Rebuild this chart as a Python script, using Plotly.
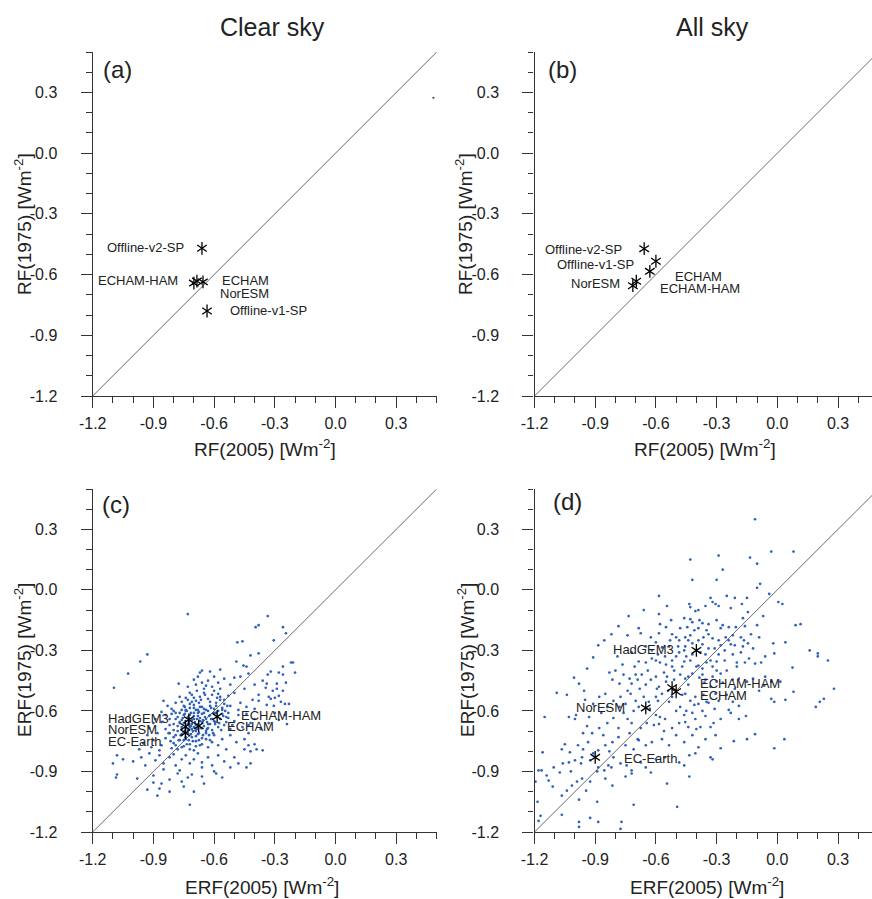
import plotly.graph_objects as go

# ---------------- data ----------------
tick_vals = [-1.2, -0.9, -0.6, -0.3, 0.0, 0.3]
tick_text = ["-1.2", "-0.9", "-0.6", "-0.3", "0.0", "0.3"]
diag = [-1.2, 0.5]

# panel (a) clear-sky RF
a_names = ["Offline-v2-SP", "ECHAM-HAM", "NorESM", "ECHAM", "Offline-v1-SP"]
a_x = [-0.66, -0.70, -0.685, -0.655, -0.635]
a_y = [-0.47, -0.642, -0.632, -0.636, -0.78]
a_stray_x = [0.484]
a_stray_y = [0.274]

# panel (b) all-sky RF
b_names = ["Offline-v2-SP", "Offline-v1-SP", "ECHAM", "ECHAM-HAM", "NorESM"]
b_x = [-0.658, -0.60, -0.63, -0.697, -0.714]
b_y = [-0.472, -0.534, -0.584, -0.633, -0.655]

# panel (c) clear-sky ERF
c_names = ["ECHAM-HAM", "ECHAM", "HadGEM3", "NorESM", "EC-Earth"]
c_x = [-0.585, -0.676, -0.725, -0.742, -0.742]
c_y = [-0.628, -0.674, -0.644, -0.678, -0.709]

# panel (d) all-sky ERF
d_names = ["HadGEM3", "ECHAM-HAM", "ECHAM", "NorESM", "EC-Earth"]
d_x = [-0.40, -0.52, -0.50, -0.65, -0.90]
d_y = [-0.30, -0.485, -0.505, -0.585, -0.83]

# ensemble members (ERF2005, ERF1975), clear sky
c_pts = [
    (-0.73,-0.12),(-0.335,-0.13),(-0.395,-0.185),(-0.38,-0.175),(-0.26,-0.185),(-0.245,-0.215),
    (-0.305,-0.25),(-0.485,-0.26),(-0.46,-0.255),(-0.93,-0.32),(-0.42,-0.325),(-0.38,-0.315),
    (-0.965,-0.355),(-0.49,-0.355),(-0.455,-0.375),(-0.44,-0.38),(-0.22,-0.36),(-0.21,-0.36),
    (-0.26,-0.38),(-0.20,-0.41),(-1.025,-0.415),(-1.095,-0.485),
    (-0.335,-0.42),(-0.32,-0.405),(-0.28,-0.41),(-0.43,-0.415),(-0.50,-0.435),(-0.47,-0.43),
    (-0.57,-0.395),(-0.66,-0.40),(-0.67,-0.41),(-0.62,-0.405),(-0.68,-0.43),(-0.70,-0.445),
    (-0.775,-0.465),(-0.26,-0.42),(-0.245,-0.46),(-0.34,-0.465),(-0.29,-0.465),(-0.345,-0.485),
    (-0.52,-0.47),(-0.58,-0.46),(-0.61,-0.48),(-0.63,-0.45),(-0.73,-0.48),(-0.55,-0.44),
    (-0.40,-0.47),(-0.45,-0.49),(-0.65,-0.49),(-0.60,-0.43),
    (-0.26,-0.50),(-0.28,-0.525),(-0.30,-0.535),(-0.32,-0.54),(-0.27,-0.555),(-0.25,-0.565),
    (-0.23,-0.565),(-0.305,-0.575),(-0.38,-0.52),(-0.41,-0.545),(-0.44,-0.58),(-0.47,-0.56),
    (-0.50,-0.51),(-0.53,-0.525),(-0.55,-0.545),(-0.57,-0.53),(-0.59,-0.56),(-0.61,-0.52),
    (-0.63,-0.54),(-0.65,-0.51),(-0.67,-0.53),(-0.69,-0.55),(-0.71,-0.52),(-0.73,-0.545),
    (-0.75,-0.575),(-0.77,-0.53),(-0.79,-0.56),(-0.81,-0.59),(-0.83,-0.575),(-0.85,-0.55),
    (-0.62,-0.575),(-0.66,-0.58),(-0.70,-0.585),(-0.68,-0.595),(-0.64,-0.595),(-0.60,-0.59),
    (-0.56,-0.585),(-0.52,-0.575),(-0.48,-0.595),(-0.72,-0.565),(-0.58,-0.515),(-0.74,-0.595),
    (-0.34,-0.57),(-0.33,-0.53),(-0.31,-0.50),(-0.29,-0.49),(-0.36,-0.45),(-0.38,-0.55),
    (-0.40,-0.59),
    (-0.86,-0.655),(-0.89,-0.64),(-0.90,-0.66),(-0.84,-0.62),(-0.82,-0.64),(-0.80,-0.665),
    (-0.79,-0.61),(-0.78,-0.63),(-0.77,-0.655),(-0.76,-0.68),(-0.75,-0.62),(-0.74,-0.60),
    (-0.73,-0.665),(-0.72,-0.62),(-0.71,-0.69),(-0.70,-0.64),(-0.70,-0.61),(-0.69,-0.67),
    (-0.68,-0.625),(-0.67,-0.65),(-0.66,-0.685),(-0.65,-0.61),(-0.64,-0.64),(-0.63,-0.665),
    (-0.62,-0.62),(-0.61,-0.695),(-0.60,-0.65),(-0.59,-0.61),(-0.58,-0.68),(-0.57,-0.64),
    (-0.56,-0.615),(-0.55,-0.67),(-0.54,-0.63),(-0.52,-0.69),(-0.50,-0.65),(-0.48,-0.62),
    (-0.46,-0.68),(-0.44,-0.615),(-0.42,-0.66),(-0.43,-0.67),(-0.40,-0.64),(-0.37,-0.69),
    (-0.33,-0.66),(-0.30,-0.61),(-0.28,-0.645),(-0.25,-0.62),(-0.24,-0.665),(-0.80,-0.695),
    (-0.84,-0.69),(-0.76,-0.645),(-0.745,-0.70),(-0.725,-0.635),(-0.715,-0.675),(-0.69,-0.70),
    (-0.675,-0.605),(-0.655,-0.645),(-0.635,-0.69),(-0.615,-0.64),(-0.595,-0.665),(-0.565,-0.695),
    (-0.53,-0.61),(-0.51,-0.67),(-0.92,-0.685),(-0.86,-0.605),(-0.81,-0.615),
    (-0.93,-0.72),(-0.90,-0.745),(-0.88,-0.71),(-0.86,-0.77),(-0.84,-0.735),(-0.82,-0.71),
    (-0.80,-0.76),(-0.79,-0.72),(-0.78,-0.79),(-0.77,-0.745),(-0.76,-0.715),(-0.75,-0.775),
    (-0.74,-0.74),(-0.73,-0.71),(-0.72,-0.765),(-0.71,-0.73),(-0.70,-0.795),(-0.69,-0.75),
    (-0.68,-0.715),(-0.67,-0.77),(-0.66,-0.735),(-0.64,-0.71),(-0.63,-0.78),(-0.62,-0.745),
    (-0.60,-0.72),(-0.58,-0.77),(-0.56,-0.74),(-0.54,-0.79),(-0.52,-0.72),(-0.49,-0.755),
    (-0.45,-0.79),(-0.43,-0.71),(-0.40,-0.765),(-0.39,-0.79),(-0.36,-0.795),(-0.42,-0.80),
    (-0.95,-0.76),(-0.97,-0.79),(-0.91,-0.78),(-0.87,-0.795),(-0.81,-0.785),(-0.45,-0.74),
    (-0.43,-0.77),
    (-1.05,-0.84),(-1.08,-0.82),(-1.10,-0.86),(-1.0,-0.85),(-0.96,-0.83),(-0.94,-0.87),
    (-0.92,-0.81),(-0.89,-0.845),(-0.87,-0.82),(-0.85,-0.86),(-0.82,-0.83),(-0.80,-0.815),
    (-0.79,-0.87),(-0.76,-0.84),(-0.74,-0.82),(-0.72,-0.86),(-0.70,-0.84),(-0.68,-0.81),
    (-0.66,-0.855),(-0.63,-0.83),(-0.61,-0.87),(-0.58,-0.82),(-0.55,-0.85),(-0.52,-0.88),
    (-0.50,-0.83),(-0.48,-0.86),(-0.85,-0.89),(-0.77,-0.895),(-0.66,-0.88),(-0.42,-0.86),
    (-0.44,-0.88),(-1.085,-0.93),
    (-1.08,-0.915),(-0.98,-0.935),(-0.90,-0.92),(-0.86,-0.96),(-0.82,-0.94),(-0.78,-0.91),
    (-0.75,-0.975),(-0.73,-0.93),(-0.71,-0.915),(-0.66,-0.925),(-0.60,-0.90),(-0.59,-0.91),
    (-0.56,-0.93),(-0.93,-0.99),(-0.87,-0.985),(-0.82,-1.00),(-0.76,-0.95),(-0.72,-1.065),
    (-0.70,-1.0),(-0.88,-1.02),(-0.90,-0.955),(-0.65,-0.96),
]

# dense core of the clear-sky ERF cloud
c_core = [
    (-0.80,-0.60),(-0.79,-0.64),(-0.78,-0.675),(-0.78,-0.70),(-0.77,-0.61),(-0.77,-0.66),
    (-0.765,-0.72),(-0.76,-0.595),(-0.76,-0.69),(-0.755,-0.635),(-0.75,-0.66),(-0.75,-0.705),
    (-0.745,-0.58),(-0.745,-0.615),(-0.74,-0.65),(-0.74,-0.685),(-0.74,-0.73),(-0.735,-0.60),
    (-0.735,-0.67),(-0.73,-0.63),(-0.73,-0.695),(-0.725,-0.655),(-0.725,-0.745),(-0.72,-0.585),
    (-0.72,-0.68),(-0.715,-0.61),(-0.715,-0.715),(-0.71,-0.645),(-0.71,-0.665),(-0.705,-0.70),
    (-0.70,-0.57),(-0.70,-0.625),(-0.70,-0.68),(-0.695,-0.655),(-0.69,-0.595),(-0.69,-0.725),
    (-0.685,-0.64),(-0.685,-0.69),(-0.68,-0.61),(-0.68,-0.665),(-0.675,-0.71),(-0.67,-0.58),
    (-0.67,-0.635),(-0.665,-0.685),(-0.66,-0.615),(-0.66,-0.655),(-0.655,-0.72),(-0.65,-0.59),
    (-0.65,-0.675),(-0.645,-0.63),(-0.64,-0.70),(-0.635,-0.655),(-0.63,-0.60),(-0.63,-0.685),
    (-0.625,-0.625),(-0.62,-0.665),(-0.615,-0.585),(-0.61,-0.64),(-0.605,-0.71),(-0.60,-0.61),
    (-0.595,-0.655),(-0.59,-0.575),(-0.585,-0.63),(-0.58,-0.60),(-0.575,-0.66),(-0.57,-0.545),
    (-0.56,-0.595),(-0.555,-0.625),(-0.55,-0.565),(-0.545,-0.60),(-0.54,-0.655),(-0.535,-0.575),
    (-0.53,-0.635),
    (-0.82,-0.67),(-0.825,-0.71),(-0.815,-0.75),(-0.80,-0.73),(-0.79,-0.77),(-0.775,-0.745),
    (-0.76,-0.78),(-0.75,-0.745),(-0.735,-0.765),(-0.72,-0.79),(-0.705,-0.75),(-0.69,-0.775),
    (-0.675,-0.745),(-0.66,-0.765),(-0.64,-0.74),(-0.625,-0.72),(-0.61,-0.755),
    (-0.76,-0.555),(-0.74,-0.535),(-0.72,-0.51),(-0.70,-0.535),(-0.685,-0.50),(-0.665,-0.545),
    (-0.645,-0.52),(-0.62,-0.555),(-0.60,-0.50),(-0.585,-0.535),(-0.57,-0.49),(-0.69,-0.47),
    (-0.66,-0.46),(-0.64,-0.475),(-0.71,-0.555),(-0.675,-0.56),
]

# ensemble members (ERF2005, ERF1975), all sky
d_pts = [
    (-0.11,0.35),(-0.03,0.19),(0.08,0.19),(-0.135,0.16),(-0.29,0.17),(-0.43,0.15),(-0.10,0.13),
    (-0.27,0.10),(-0.42,0.05),(-0.30,0.05),(-0.085,0.03),(-0.10,0.01),
    (-0.04,-0.02),(-0.585,-0.03),(-0.33,-0.04),(-0.25,-0.03),(-0.21,-0.04),(-0.15,-0.04),
    (-0.32,-0.06),(-0.305,-0.07),(-0.29,-0.08),(0.005,-0.06),(0.025,-0.07),(-0.545,-0.08),
    (-0.435,-0.07),(-0.43,-0.085),(-0.355,-0.08),(-0.175,-0.07),(-0.23,-0.09),(-0.66,-0.10),
    (-0.405,-0.105),(-0.39,-0.10),(-0.145,-0.11),
    (-0.735,-0.13),(-0.585,-0.12),(-0.525,-0.15),(-0.46,-0.14),(-0.43,-0.145),(-0.42,-0.16),
    (-0.385,-0.15),(-0.37,-0.165),(-0.34,-0.17),(-0.30,-0.15),(-0.27,-0.175),(-0.24,-0.185),
    (-0.205,-0.185),(-0.16,-0.18),(-0.10,-0.175),(0.09,-0.175),(0.115,-0.17),(-0.785,-0.18),
    (-0.685,-0.19),(-0.48,-0.19),(-0.445,-0.185),(-0.39,-0.19),(-0.35,-0.20),(-0.58,-0.17),
    (-0.55,-0.185),
    (-0.82,-0.22),(-0.885,-0.275),(-0.855,-0.25),(-0.74,-0.225),(-0.675,-0.215),(-0.625,-0.235),
    (-0.585,-0.215),(-0.52,-0.22),(-0.50,-0.235),(-0.485,-0.25),(-0.455,-0.235),(-0.43,-0.225),
    (-0.39,-0.25),(-0.365,-0.235),(-0.32,-0.24),(-0.29,-0.25),(-0.255,-0.235),(-0.22,-0.225),
    (-0.18,-0.235),(-0.165,-0.25),(-0.145,-0.265),(-0.17,-0.28),(-0.21,-0.275),(-0.24,-0.25),
    (0.04,-0.26),(-0.02,-0.265),(-0.09,-0.235),(-0.535,-0.28),(-0.60,-0.26),(-0.65,-0.28),
    (-0.455,-0.28),(-0.42,-0.265),(-0.34,-0.29),(-0.28,-0.275),
    (-0.79,-0.33),(-0.91,-0.335),(-0.94,-0.39),(-0.83,-0.41),(-0.72,-0.31),(-0.685,-0.355),
    (-0.65,-0.36),(-0.62,-0.34),(-0.59,-0.32),(-0.58,-0.36),(-0.555,-0.33),(-0.52,-0.35),
    (-0.485,-0.31),(-0.46,-0.355),(-0.45,-0.33),(-0.42,-0.32),(-0.355,-0.32),(-0.33,-0.35),
    (-0.30,-0.355),(-0.29,-0.32),(-0.26,-0.35),(-0.22,-0.32),(-0.20,-0.36),(-0.16,-0.36),
    (-0.14,-0.34),(-0.11,-0.365),(-0.08,-0.36),(-0.06,-0.33),(-0.015,-0.315),(0.075,-0.385),
    (0.16,-0.30),(0.20,-0.315),(0.20,-0.33),(0.25,-0.35),(-0.765,-0.37),(-0.705,-0.38),
    (-0.52,-0.38),(-0.39,-0.375),(-0.37,-0.39),(-0.32,-0.38),
    (-1.09,-0.51),(-1.04,-0.52),(-1.005,-0.435),(-0.98,-0.465),(-0.955,-0.50),(-0.815,-0.445),
    (-0.78,-0.465),(-0.76,-0.42),(-0.73,-0.44),(-0.72,-0.465),(-0.69,-0.445),(-0.67,-0.42),
    (-0.65,-0.47),(-0.625,-0.445),(-0.60,-0.43),(-0.585,-0.48),(-0.55,-0.455),(-0.545,-0.43),
    (-0.51,-0.445),(-0.48,-0.42),(-0.455,-0.44),(-0.44,-0.47),(-0.42,-0.415),(-0.385,-0.435),
    (-0.37,-0.42),(-0.355,-0.445),(-0.32,-0.43),(-0.30,-0.455),(-0.28,-0.415),(-0.22,-0.445),
    (-0.19,-0.44),(-0.15,-0.455),(-0.065,-0.475),(-0.03,-0.455),(0.015,-0.455),(-0.06,-0.43),
    (0.28,-0.49),(-0.595,-0.49),
    (-1.15,-0.63),(-1.03,-0.63),(-0.995,-0.62),(-0.95,-0.545),(-0.91,-0.565),(-0.88,-0.53),
    (-0.85,-0.515),(-0.81,-0.55),(-0.775,-0.53),(-0.75,-0.565),(-0.725,-0.515),(-0.70,-0.55),
    (-0.685,-0.58),(-0.635,-0.555),(-0.60,-0.53),(-0.57,-0.515),(-0.535,-0.555),(-0.52,-0.53),
    (-0.455,-0.515),(-0.43,-0.55),(-0.405,-0.53),(-0.39,-0.565),(-0.365,-0.52),(-0.35,-0.555),
    (-0.305,-0.515),(-0.29,-0.55),(-0.25,-0.52),(-0.22,-0.555),(-0.24,-0.595),(-0.19,-0.575),
    (-0.03,-0.54),(-0.015,-0.555),(0.04,-0.545),(0.08,-0.505),(0.19,-0.58),(0.21,-0.555),
    (0.23,-0.54),(-0.48,-0.58),(-0.50,-0.60),
    (-1.0,-0.64),(-0.94,-0.675),(-0.915,-0.71),(-0.88,-0.685),(-0.84,-0.66),(-0.81,-0.635),
    (-0.785,-0.685),(-0.74,-0.64),(-0.72,-0.66),(-0.675,-0.685),(-0.645,-0.66),(-0.60,-0.62),
    (-0.585,-0.665),(-0.555,-0.64),(-0.52,-0.685),(-0.485,-0.66),(-0.46,-0.62),(-0.455,-0.655),
    (-0.42,-0.61),(-0.405,-0.64),(-0.38,-0.68),(-0.355,-0.625),(-0.315,-0.66),(-0.28,-0.64),
    (-0.23,-0.61),(-0.19,-0.64),(-0.155,-0.625),(-0.15,-0.74),(-0.11,-0.715),(-0.215,-0.75),
    (-0.28,-0.785),(-0.015,-0.785),(0.035,-0.74),
    (-1.065,-0.79),(-1.05,-0.765),(-1.025,-0.805),(-0.985,-0.77),(-0.96,-0.79),(-0.935,-0.755),
    (-0.885,-0.795),(-0.85,-0.77),(-0.815,-0.755),(-0.785,-0.73),(-0.75,-0.77),(-0.71,-0.79),
    (-0.685,-0.745),(-0.65,-0.77),(-0.62,-0.755),(-0.57,-0.74),(-0.535,-0.77),(-0.50,-0.72),
    (-0.46,-0.755),(-0.42,-0.72),(-0.39,-0.78),(-0.355,-0.74),(-0.305,-0.72),(-1.16,-0.805),
    (-1.18,-0.895),(-1.165,-0.895),(-1.14,-0.92),(-1.105,-0.88),(-1.075,-0.905),(-1.03,-0.855),
    (-1.0,-0.845),(-0.965,-0.83),(-0.925,-0.845),(-0.885,-0.88),(-0.855,-0.895),(-0.835,-0.87),
    (-0.81,-0.83),(-0.775,-0.86),(-0.745,-0.87),(-0.72,-0.895),(-0.675,-0.855),(-0.65,-0.88),
    (-0.625,-0.905),(-0.60,-0.84),(-0.555,-0.83),(-0.485,-0.855),(-0.46,-0.87),(-0.435,-0.82),
    (-0.405,-0.81),(-0.33,-0.83),(-0.32,-0.84),(-0.435,-0.925),
    (-1.195,-0.95),(-1.13,-0.945),(-1.11,-0.975),(-1.065,-1.02),(-1.04,-0.995),(-1.015,-0.97),
    (-0.99,-0.95),(-0.965,-0.935),(-0.945,-0.995),(-0.925,-0.95),(-0.89,-1.05),(-0.85,-0.935),
    (-0.815,-0.97),(-0.75,-0.925),(-0.72,-0.91),(-0.71,-1.065),(-0.545,-0.96),(-0.495,-1.075),
    (-0.98,-1.04),
    (-1.185,-1.05),(-1.18,-1.145),(-1.17,-1.12),(-1.065,-1.115),(-0.98,-1.15),(-0.98,-1.175),
    (-0.925,-1.13),(-0.885,-1.15),(-0.775,-1.185),(-0.77,-1.15),
]

# further all-sky members in the denser middle band
d_extra = [
    (-0.62,-0.30),(-0.60,-0.35),(-0.57,-0.285),(-0.56,-0.41),(-0.55,-0.37),(-0.53,-0.25),
    (-0.51,-0.40),(-0.50,-0.33),(-0.49,-0.28),(-0.47,-0.38),(-0.46,-0.30),(-0.44,-0.25),
    (-0.44,-0.43),(-0.43,-0.35),(-0.41,-0.20),(-0.40,-0.38),(-0.38,-0.31),(-0.37,-0.27),
    (-0.36,-0.46),(-0.35,-0.36),(-0.34,-0.22),(-0.33,-0.48),(-0.31,-0.29),(-0.30,-0.40),
    (-0.28,-0.19),(-0.27,-0.46),(-0.26,-0.30),(-0.25,-0.40),(-0.23,-0.27),(-0.21,-0.49),
    (-0.20,-0.38),(-0.18,-0.31),(-0.17,-0.14),(-0.13,-0.22),(-0.12,-0.29),(-0.12,-0.44),
    (-0.09,-0.50),(-0.07,-0.13),
    (-0.68,-0.49),(-0.66,-0.53),(-0.64,-0.40),(-0.63,-0.59),(-0.61,-0.67),(-0.59,-0.55),
    (-0.58,-0.63),(-0.56,-0.70),(-0.54,-0.50),(-0.47,-0.52),(-0.45,-0.60),(-0.44,-0.68),
    (-0.41,-0.57),(-0.40,-0.69),(-0.37,-0.60),(-0.34,-0.56),(-0.33,-0.68),(-0.31,-0.59),
    (-0.80,-0.40),(-0.78,-0.58),(-0.76,-0.61),(-0.74,-0.50),(-0.73,-0.71),(-0.71,-0.60),
    (-0.70,-0.42),(-0.69,-0.74),(-0.87,-0.61),(-0.86,-0.72),(-0.84,-0.58),(-0.83,-0.80),
    (-0.96,-0.71),(-0.93,-0.63),(-0.91,-0.81),(-0.97,-0.86),(-1.02,-0.90),(-1.06,-0.86),
    (-0.89,-0.90),(-0.82,-0.88),
]

# label positions (data units) and anchors
a_lab = [("Offline-v2-SP", -0.74, -0.468, "right"), ("ECHAM-HAM", -0.77, -0.627, "right"),
         ("ECHAM", -0.57, -0.631, "left"), ("NorESM", -0.58, -0.693, "left"),
         ("Offline-v1-SP", -0.53, -0.779, "left")]
b_lab = [("Offline-v2-SP", -0.757, -0.475, "right"), ("Offline-v1-SP", -0.70, -0.551, "right"),
         ("NorESM", -0.77, -0.646, "right"), ("ECHAM", -0.517, -0.609, "left"),
         ("ECHAM-HAM", -0.589, -0.671, "left")]
c_lab = [("HadGEM3", -1.136, -0.635, "left"), ("NorESM", -1.136, -0.693, "left"),
         ("EC-Earth", -1.136, -0.752, "left"), ("ECHAM-HAM", -0.477, -0.621, "left"),
         ("ECHAM", -0.544, -0.678, "left")]
d_lab = [("HadGEM3", -0.502, -0.294, "right"), ("ECHAM-HAM", -0.39, -0.464, "left"),
         ("ECHAM", -0.39, -0.522, "left"), ("NorESM", -0.745, -0.585, "right"),
         ("EC-Earth", -0.769, -0.836, "left")]

# ---------------- figure ----------------
W, H = 872, 899
FONT = "Liberation Sans, Arial, Helvetica, sans-serif"
BLUE = "#2f62b8"

def px(x):
    return x / W

def py(y):
    return 1 - y / H

fig = go.Figure()

panels = [
    ("", a_x, a_y, None, a_lab),
    ("2", b_x, b_y, None, b_lab),
    ("3", c_x, c_y, c_pts + c_core, c_lab),
    ("4", d_x, d_y, d_pts + d_extra, d_lab),
]

for sfx, mx, my, pts, labs in panels:
    xa, ya = "x" + sfx, "y" + sfx
    fig.add_trace(go.Scatter(x=diag, y=diag, mode="lines", xaxis=xa, yaxis=ya,
                             line=dict(color="#6b6b6b", width=1), hoverinfo="skip"))
    if pts:
        fig.add_trace(go.Scatter(x=[p[0] for p in pts], y=[p[1] for p in pts], mode="markers",
                                 xaxis=xa, yaxis=ya,
                                 marker=dict(color=BLUE, size=2.7, line=dict(width=0))))
    for sym in ("y-up-open", "y-down-open"):
        fig.add_trace(go.Scatter(x=mx, y=my, mode="markers", xaxis=xa, yaxis=ya,
                                 marker=dict(symbol=sym, size=8, color="black",
                                             line=dict(color="black", width=1.3))))
    for txt, lx, ly, anc in labs:
        fig.add_annotation(x=lx, y=ly, xref=xa, yref=ya, text=txt, showarrow=False,
                           xanchor=anc, yanchor="middle",
                           font=dict(size=13, color="#222", family=FONT))

fig.add_trace(go.Scatter(x=a_stray_x, y=a_stray_y, mode="markers", xaxis="x", yaxis="y",
                         marker=dict(color="#444", size=2.2)))

def axis(domain, rng, standoff):
    return dict(domain=domain, range=rng, showline=True, linecolor="#333", linewidth=1.4,
                ticks="outside", ticklen=11, tickwidth=1.3, tickcolor="#333",
                tickmode="array", tickvals=tick_vals, ticktext=tick_text,
                tickfont=dict(size=16, color="#222", family=FONT), ticklabelstandoff=standoff,
                minor=dict(ticks="outside", ticklen=5.5, tickwidth=1, tickcolor="#333",
                           tickmode="linear", tick0=-1.2, dtick=0.1, showgrid=False),
                showgrid=False, zeroline=False, fixedrange=True, automargin=False)

L = [px(92.7), px(436.7)]
R = [px(534.5), 1.0]
TOP = [py(396), py(52)]
BOT = [py(832), py(489)]
rr = -1.2 + 337.5 / 202.35

fig.update_layout(
    width=W, height=H, margin=dict(l=0, r=0, t=0, b=0, autoexpand=False),
    paper_bgcolor="white", plot_bgcolor="white", showlegend=False,
    font=dict(family=FONT, color="#222"),
    xaxis=dict(axis(L, [-1.2, 0.5], 2), anchor="y"),
    yaxis=dict(axis(TOP, [-1.2, 0.5], 20), anchor="x"),
    xaxis2=dict(axis(R, [-1.2, rr], 2), anchor="y2"),
    yaxis2=dict(axis(TOP, [-1.2, 0.5], 20), anchor="x2"),
    xaxis3=dict(axis(L, [-1.2, 0.5], 2), anchor="y3"),
    yaxis3=dict(axis(BOT, [-1.2, 0.5], 20), anchor="x3"),
    xaxis4=dict(axis(R, [-1.2, rr], 2), anchor="y4"),
    yaxis4=dict(axis(BOT, [-1.2, 0.5], 20), anchor="x4"),
)

def ann(x, y, text, size, angle=0, anchor="center"):
    fig.add_annotation(x=px(x), y=py(y), xref="paper", yref="paper", text=text,
                       showarrow=False, textangle=angle, xanchor=anchor, yanchor="middle",
                       font=dict(size=size, color="#222", family=FONT))

ann(272, 27, "Clear sky", 25)
ann(712, 27, "All sky", 25)
ann(101, 69, "(a)", 24, anchor="left")
ann(546, 69, "(b)", 24, anchor="left")
ann(100, 504, "(c)", 24, anchor="left")
ann(551, 501, "(d)", 24, anchor="left")
ann(265, 448, "RF(2005) [Wm<sup>-2</sup>]", 19)
ann(705, 448, "RF(2005) [Wm<sup>-2</sup>]", 19)
ann(262, 886, "ERF(2005) [Wm<sup>-2</sup>]", 19)
ann(707, 886, "ERF(2005) [Wm<sup>-2</sup>]", 19)
ann(23, 224, "RF(1975) [Wm<sup>-2</sup>]", 19, angle=-90)
ann(464, 224, "RF(1975) [Wm<sup>-2</sup>]", 19, angle=-90)
ann(23, 660, "ERF(1975) [Wm<sup>-2</sup>]", 19, angle=-90)
ann(466, 660, "ERF(1975) [Wm<sup>-2</sup>]", 19, angle=-90)

fig.write_html("out.html", config={"displayModeBar": False},
               post_script="document.body.style.margin='0';document.body.style.overflow='hidden';")
